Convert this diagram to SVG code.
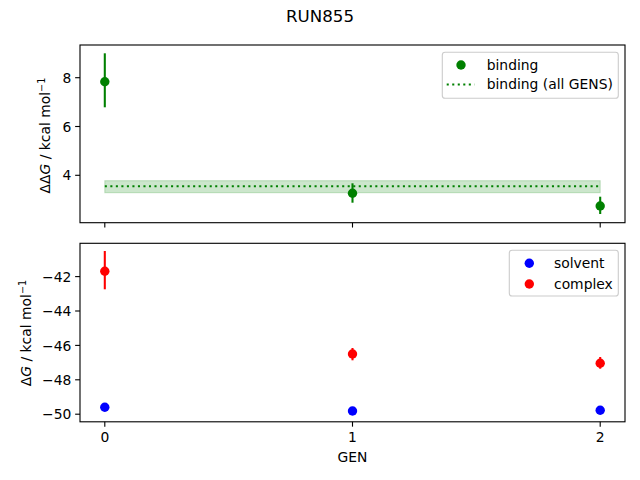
<svg xmlns="http://www.w3.org/2000/svg" width="640" height="480" viewBox="0 0 640 480">
<style>
text{font-family:"DejaVu Sans","Liberation Sans",sans-serif;fill:#000}
.tk{font-size:13.89px}
.spine{fill:none;stroke:#000;stroke-width:1.11}
.tick{stroke:#000;stroke-width:1.11}
.err{stroke-width:2.08}
.leg{fill:#fff;fill-opacity:0.8;stroke:#cccccc;stroke-width:1.11}
</style>
<rect width="640" height="480" fill="#fff"/>
<text x="320" y="22" text-anchor="middle" style="font-size:16.67px">RUN855</text>

<g id="top-axes">
  <g id="band">
    <rect x="104.8" y="180.7" width="495.4" height="12" fill="#008000" fill-opacity="0.2" stroke="#008000" stroke-opacity="0.2" stroke-width="1.1"/>
    <line x1="104.8" y1="186.2" x2="600.2" y2="186.2" stroke="#008000" stroke-width="2.08" stroke-dasharray="2.08 3.44"/>
  </g>
  <g id="binding-points" fill="#008000" stroke="#008000">
    <line class="err" x1="104.8" y1="53.3" x2="104.8" y2="107.3"/>
    <circle cx="104.8" cy="81.7" r="4.7" stroke="none"/>
    <line class="err" x1="352.5" y1="183.3" x2="352.5" y2="202.7"/>
    <circle cx="352.5" cy="193.3" r="4.7" stroke="none"/>
    <line class="err" x1="600.2" y1="196.7" x2="600.2" y2="214"/>
    <circle cx="600.2" cy="206" r="4.7" stroke="none"/>
  </g>
  <rect class="spine" x="80" y="45" width="545" height="177.7"/>
  <g id="top-ticks">
    <line class="tick" x1="80" y1="77.7" x2="75.14" y2="77.7"/>
    <line class="tick" x1="80" y1="126.5" x2="75.14" y2="126.5"/>
    <line class="tick" x1="80" y1="175.3" x2="75.14" y2="175.3"/>
    <line class="tick" x1="104.8" y1="222.7" x2="104.8" y2="227.56"/>
    <line class="tick" x1="352.5" y1="222.7" x2="352.5" y2="227.56"/>
    <line class="tick" x1="600.2" y1="222.7" x2="600.2" y2="227.56"/>
    <text class="tk" x="71.3" y="82.8" text-anchor="end">8</text>
    <text class="tk" x="71.3" y="131.6" text-anchor="end">6</text>
    <text class="tk" x="71.3" y="180.4" text-anchor="end">4</text>
  </g>
  <text class="tk" transform="translate(49.5,135.5) rotate(-90)" text-anchor="middle">ΔΔ<tspan font-style="italic">G</tspan> / kcal mol<tspan font-size="9.7px" dy="-5">−1</tspan></text>
  <g id="top-legend">
    <rect class="leg" x="442.3" y="52.3" width="176" height="46" rx="2.8"/>
    <circle cx="461" cy="65" r="4.7" fill="#008000"/>
    <text class="tk" x="486.7" y="69.8">binding</text>
    <line x1="446.7" y1="84.5" x2="474.5" y2="84.5" stroke="#008000" stroke-width="2.08" stroke-dasharray="2.08 3.44"/>
    <text class="tk" x="486.7" y="89.3">binding (all GENS)</text>
  </g>
</g>

<g id="bottom-axes">
  <g id="complex-points" fill="#ff0000" stroke="#ff0000">
    <line class="err" x1="104.8" y1="251" x2="104.8" y2="289.3"/>
    <circle cx="104.8" cy="271.3" r="4.7" stroke="none"/>
    <line class="err" x1="352.5" y1="348" x2="352.5" y2="360.3"/>
    <circle cx="352.5" cy="354" r="4.7" stroke="none"/>
    <line class="err" x1="600.2" y1="357" x2="600.2" y2="368.7"/>
    <circle cx="600.2" cy="363.3" r="4.7" stroke="none"/>
  </g>
  <g id="solvent-points" fill="#0000ff">
    <circle cx="104.8" cy="407.2" r="4.7"/>
    <circle cx="352.5" cy="411" r="4.7"/>
    <circle cx="600.2" cy="410.2" r="4.7"/>
  </g>
  <rect class="spine" x="80" y="243.3" width="545" height="178.5"/>
  <g id="bottom-ticks">
    <line class="tick" x1="80" y1="276.6" x2="75.14" y2="276.6"/>
    <line class="tick" x1="80" y1="311" x2="75.14" y2="311"/>
    <line class="tick" x1="80" y1="345.4" x2="75.14" y2="345.4"/>
    <line class="tick" x1="80" y1="379.8" x2="75.14" y2="379.8"/>
    <line class="tick" x1="80" y1="414.2" x2="75.14" y2="414.2"/>
    <text class="tk" x="71.3" y="281.7" text-anchor="end">−42</text>
    <text class="tk" x="71.3" y="316.1" text-anchor="end">−44</text>
    <text class="tk" x="71.3" y="350.5" text-anchor="end">−46</text>
    <text class="tk" x="71.3" y="384.9" text-anchor="end">−48</text>
    <text class="tk" x="71.3" y="419.3" text-anchor="end">−50</text>
    <line class="tick" x1="104.8" y1="421.8" x2="104.8" y2="426.66"/>
    <line class="tick" x1="352.5" y1="421.8" x2="352.5" y2="426.66"/>
    <line class="tick" x1="600.2" y1="421.8" x2="600.2" y2="426.66"/>
    <text class="tk" x="104.8" y="441.6" text-anchor="middle">0</text>
    <text class="tk" x="352.5" y="441.6" text-anchor="middle">1</text>
    <text class="tk" x="600.2" y="441.6" text-anchor="middle">2</text>
  </g>
  <text class="tk" x="352.5" y="462.3" text-anchor="middle">GEN</text>
  <text class="tk" transform="translate(31,333) rotate(-90)" text-anchor="middle">Δ<tspan font-style="italic">G</tspan> / kcal mol<tspan font-size="9.7px" dy="-5">−1</tspan></text>
  <g id="bottom-legend">
    <rect class="leg" x="509.3" y="250.3" width="109" height="45.7" rx="2.8"/>
    <circle cx="529.3" cy="263.3" r="4.7" fill="#0000ff"/>
    <text class="tk" x="554" y="268.2">solvent</text>
    <circle cx="529.3" cy="284" r="4.7" fill="#ff0000"/>
    <text class="tk" x="554" y="289">complex</text>
  </g>
</g>
</svg>
